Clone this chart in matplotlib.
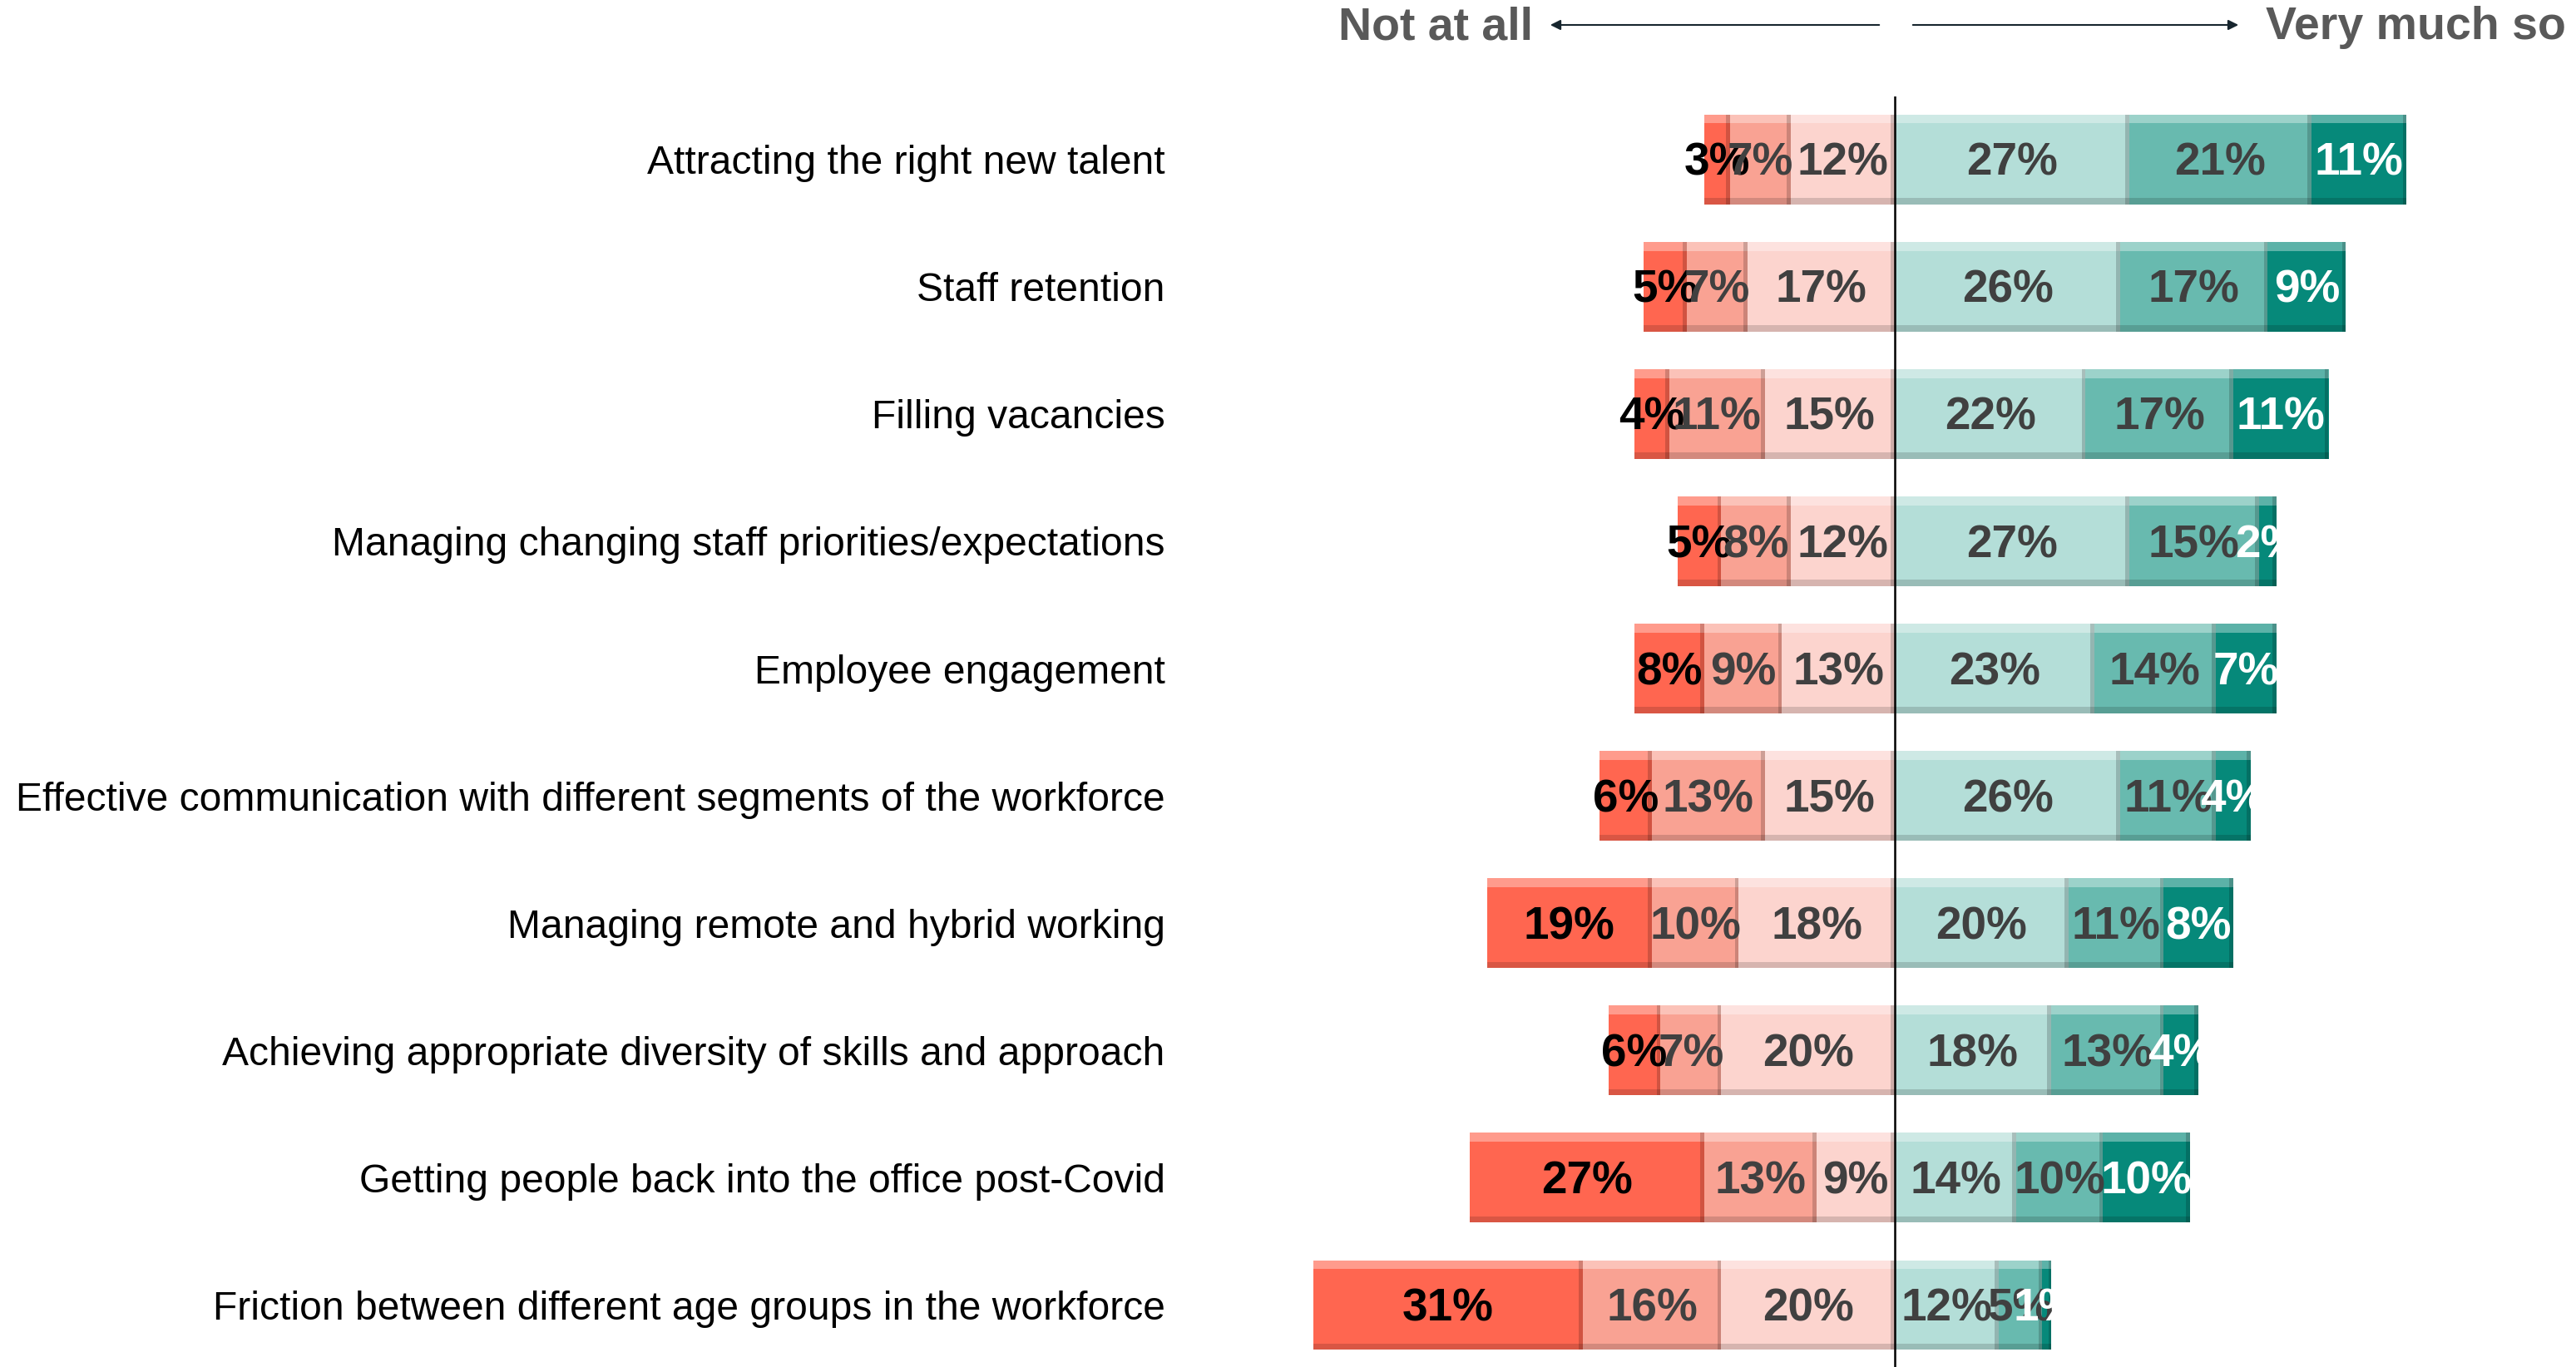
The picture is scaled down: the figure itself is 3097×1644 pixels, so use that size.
import matplotlib
matplotlib.use("Agg")
import matplotlib.pyplot as plt

plt.rcParams['font.family'] = ['Liberation Sans', 'DejaVu Sans']

categories = [
    "Attracting the right new talent",
    "Staff retention",
    "Filling vacancies",
    "Managing changing staff priorities/expectations",
    "Employee engagement",
    "Effective communication with different segments of the workforce",
    "Managing remote and hybrid working",
    "Achieving appropriate diversity of skills and approach",
    "Getting people back into the office post-Covid",
    "Friction between different age groups in the workforce",
]
# left side: outermost "not at all" first, then moving to centre
not_at_all = [3, 5, 4, 5, 8, 6, 19, 6, 27, 31]
low = [7, 7, 11, 8, 9, 13, 10, 7, 13, 16]
mid_low = [12, 17, 15, 12, 13, 15, 18, 20, 9, 20]
# right side: from centre outwards
mid_high = [27, 26, 22, 27, 23, 26, 20, 18, 14, 12]
high = [21, 17, 17, 15, 14, 11, 11, 13, 10, 5]
very_much = [11, 9, 11, 2, 7, 4, 8, 4, 10, 1]

left_colors = ["#FF6650", "#F9A293", "#FCD4CE"]
right_colors = ["#B4DED8", "#68BAAF", "#06897A"]
left_text = ["#000000", "#404040", "#404040"]
right_text = ["#404040", "#404040", "#FFFFFF"]

W, H = 3097, 1644
fig = plt.figure(figsize=(W / 100, H / 100), dpi=100)
ax = fig.add_axes([1420 / W, 0, 1 - 1420 / W, 1 - 116 / H])

px_per = 10.43
ax.set_xlim(-(2278 - 1420) / px_per, (W - 2278) / px_per)
ax.set_ylim((H - 191.6) / 153.1, -(191.6 - 116) / 153.1)

bar_h = 0.705
ys = list(range(len(categories)))


def bevel(x0, w, y, color):
    ax.barh(y, w, left=x0, height=bar_h, color=color, edgecolor='none', zorder=2)
    # top light band
    ax.barh(y - bar_h / 2 + bar_h * 0.05, w, left=x0, height=bar_h * 0.1,
            color='white', alpha=0.35, edgecolor='none', zorder=3)
    # bottom dark band
    ax.barh(y + bar_h / 2 - bar_h * 0.035, w, left=x0, height=bar_h * 0.07,
            color='black', alpha=0.15, edgecolor='none', zorder=3)
    # right side shadow
    sw = min(0.45, w * 0.3)
    ax.barh(y, sw, left=x0 + w - sw, height=bar_h, color='black', alpha=0.18,
            edgecolor='none', zorder=3)


def label(x, y, v, tc):
    ax.text(x, y + 0.125, f"{v}%", ha='center', va='baseline', fontsize=39.5,
            fontweight='bold', color=tc, zorder=5)


for i, y in enumerate(ys):
    segs_left = [not_at_all[i], low[i], mid_low[i]]
    segs_right = [mid_high[i], high[i], very_much[i]]
    x = -sum(segs_left)
    for v, c, tc in zip(segs_left, left_colors, left_text):
        bevel(x, v, y, c)
        label(x + v / 2, y, v, tc)
        x += v
    x = 0
    for v, c, tc in zip(segs_right, right_colors, right_text):
        bevel(x, v, y, c)
        label(x + v / 2, y, v, tc)
        x += v

ax.axvline(0, color='black', lw=1.8, zorder=6)

ax.set_yticks(ys)
ax.set_yticklabels(categories, fontsize=34.6)
ax.tick_params(axis='y', length=0, pad=14)
ax.set_xticks([])
for s in ax.spines.values():
    s.set_visible(False)

# header
yt = 1 - 33 / H
ya = 1 - 30 / H
fig.text(1843 / W, yt, "Not at all", ha='right', va='center', fontsize=40,
         fontweight='bold', color='#595959')
fig.text(2724 / W, yt, "Very much so", ha='left', va='center', fontsize=40,
         fontweight='bold', color='#595959')
fig.add_artist(matplotlib.patches.FancyArrowPatch(
    (2262 / W, ya), (1861 / W, ya), transform=fig.transFigure,
    arrowstyle='-|>', mutation_scale=18, color='#17262E', lw=1.5))
fig.add_artist(matplotlib.patches.FancyArrowPatch(
    (2297 / W, ya), (2694 / W, ya), transform=fig.transFigure,
    arrowstyle='-|>', mutation_scale=18, color='#17262E', lw=1.5))

fig.savefig("out.png", dpi=100)
